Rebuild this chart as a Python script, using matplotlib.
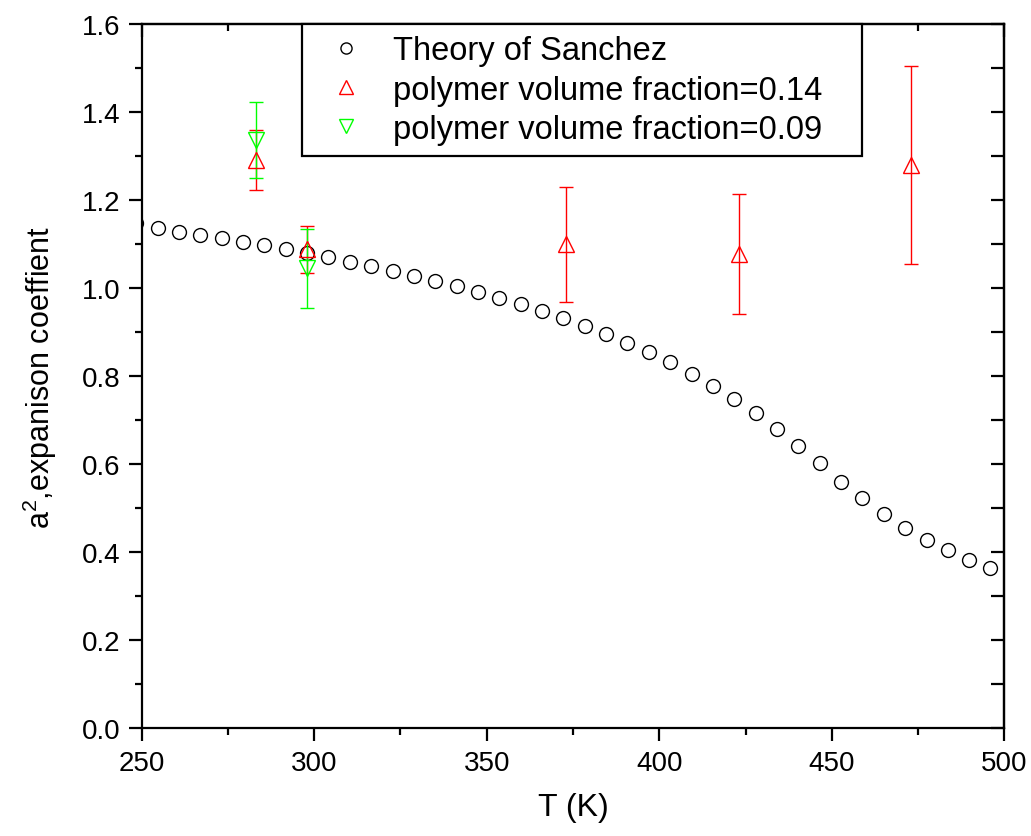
import matplotlib.pyplot as plt
from matplotlib.lines import Line2D
from matplotlib.ticker import MultipleLocator
import numpy as np

plt.rcParams['font.family'] = ['Liberation Sans', 'DejaVu Sans']
plt.rcParams['mathtext.default'] = 'regular'

# Theory of Sanchez
theory_T = [248.4, 254.6, 260.8, 267.0, 273.2, 279.4, 285.6, 291.7, 297.9, 304.1,
            310.3, 316.5, 322.7, 328.9, 335.1, 341.3, 347.5, 353.7, 359.8, 366.0,
            372.2, 378.4, 384.6, 390.8, 397.0, 403.2, 409.4, 415.6, 421.8, 427.9,
            434.1, 440.3, 446.5, 452.7, 458.9, 465.1, 471.3, 477.5, 483.7, 489.9,
            496.0, 502.2]
theory_a2 = [1.147, 1.136, 1.128, 1.121, 1.113, 1.105, 1.097, 1.088, 1.079, 1.070,
             1.060, 1.049, 1.039, 1.027, 1.016, 1.004, 0.990, 0.977, 0.964, 0.949,
             0.932, 0.914, 0.896, 0.875, 0.855, 0.831, 0.805, 0.778, 0.749, 0.716,
             0.679, 0.642, 0.602, 0.560, 0.523, 0.487, 0.456, 0.428, 0.404, 0.383,
             0.364, 0.347]

# polymer volume fraction = 0.14
T_014 = [283, 298, 373, 423, 473]
a2_014 = [1.290, 1.088, 1.099, 1.078, 1.280]
err_014 = [0.068, 0.053, 0.130, 0.136, 0.225]

# polymer volume fraction = 0.09
T_009 = [283, 298]
a2_009 = [1.336, 1.045]
err_009 = [0.086, 0.090]

red = '#ff0000'
green = '#00ff00'

fig = plt.figure(figsize=(10.31, 8.37), dpi=100)
ax = fig.add_axes([0.1374, 0.1287, 0.8367, 0.8415])

ax.plot(theory_T, theory_a2, 'o', ms=10, mfc='none', mec='black', mew=1.0)
ax.errorbar(T_014, a2_014, yerr=err_014, fmt='^', ms=12, mfc='none', mec=red,
            mew=1.0, ecolor=red, elinewidth=1.0, capsize=4.8, capthick=1.0)
ax.errorbar(T_009, a2_009, yerr=err_009, fmt='v', ms=12, mfc='none', mec=green,
            mew=1.0, ecolor=green, elinewidth=1.0, capsize=4.8, capthick=1.0)

ax.set_xlim(250, 500)
ax.set_ylim(0, 1.6)
ax.xaxis.set_major_locator(MultipleLocator(50))
ax.xaxis.set_minor_locator(MultipleLocator(25))
ax.yaxis.set_major_locator(MultipleLocator(0.2))
ax.yaxis.set_minor_locator(MultipleLocator(0.1))
ax.yaxis.set_major_formatter(plt.FormatStrFormatter('%.1f'))

for s in ax.spines.values():
    s.set_linewidth(1.6)
ax.tick_params(which='both', direction='out', width=1.6, labelsize=20, pad=6)
ax.tick_params(which='major', length=9.5)
ax.tick_params(which='minor', length=5)

# top / right ticks point inward
axt = ax.secondary_xaxis('top')
axt.xaxis.set_major_locator(MultipleLocator(50))
axt.xaxis.set_minor_locator(MultipleLocator(25))
axt.tick_params(which='both', direction='in', width=1.6, labeltop=False)
axt.tick_params(which='major', length=9.5)
axt.tick_params(which='minor', length=5)
axr = ax.secondary_yaxis('right')
axr.yaxis.set_major_locator(MultipleLocator(0.2))
axr.yaxis.set_minor_locator(MultipleLocator(0.1))
axr.tick_params(which='both', direction='in', width=1.6, length=9.5, labelright=False)
for a in (axt, axr):
    for s in a.spines.values():
        s.set_linewidth(1.6)

ax.set_xlabel('T (K)', fontsize=23, labelpad=12)
ax.set_ylabel('a$^2$,expanison coeffient', fontsize=22, labelpad=16)

handles = [
    Line2D([], [], ls='none', marker='o', ms=8, mfc='none', mec='black', mew=1.0),
    Line2D([], [], ls='none', marker='^', ms=10, mfc='none', mec=red, mew=1.0),
    Line2D([], [], ls='none', marker='v', ms=10, mfc='none', mec=green, mew=1.0),
]
# trailing spaces give the wider right margin of the original legend box
labels = ['Theory of Sanchez', 'polymer volume fraction=0.14   ',
          'polymer volume fraction=0.09   ']
leg = ax.legend(handles, labels, loc='upper left', bbox_to_anchor=(0.186, 1.0),
                borderaxespad=0, fontsize=23.5, frameon=True, fancybox=False,
                framealpha=1, edgecolor='black', handlelength=2.0, handletextpad=0.45,
                borderpad=0.35, labelspacing=0.25)
leg.get_frame().set_linewidth(1.6)
leg.set_zorder(10)

fig.savefig('out.png', dpi=100)
